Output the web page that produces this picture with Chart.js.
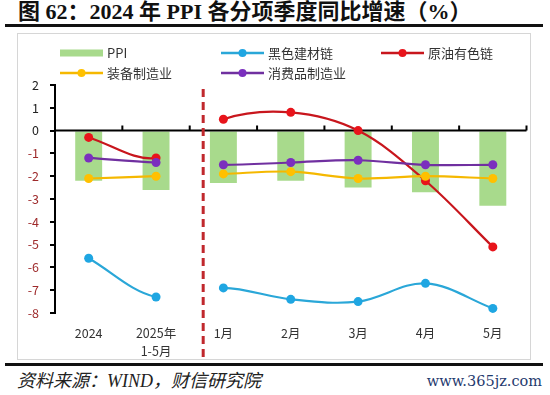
<!DOCTYPE html>
<html>
<head>
<meta charset="utf-8">
<script src="https://cdn.jsdelivr.net/npm/chart.js@4.4.1/dist/chart.umd.min.js"></script>
<style>
  body { margin: 0; width: 550px; height: 395px; background: #fff; position: relative; overflow: hidden; font-family: "Noto Sans CJK SC", sans-serif; }
  #title { position: absolute; left: 18px; top: 0; font: bold 22px/24px "Liberation Serif", "Noto Sans CJK SC", serif; color: #111; white-space: nowrap; }
  .rule { position: absolute; left: 5px; width: 538px; height: 3px; background: #111; }
  #box { position: absolute; left: 17px; top: 33px; width: 514px; height: 327px; box-sizing: border-box; border: 1px solid #d6d6d6; }
  #chart { position: absolute; left: 17px; top: 33px; }
  .item { position: absolute; font-size: 13px; line-height: 16px; color: #333; white-space: nowrap; }
  .item svg { position: absolute; left: 0; top: 4px; }
  .item span { position: absolute; left: 47px; top: 0; }
  #src { position: absolute; left: 17px; top: 370px; font: italic 18px/22px "Liberation Serif", "Noto Sans CJK SC", serif; color: #222; white-space: nowrap; }
  #site { position: absolute; right: 8px; top: 370px; font: 14.5px/22px "DejaVu Serif", serif; color: #1f3a6e; }
</style>
</head>
<body>
<div id="title">图 62：2024 年 PPI 各分项季度同比增速（%）</div>
<div class="rule" style="top:24px"></div>
<div id="box"></div>
<canvas id="chart" width="514" height="327"></canvas>
<div id="legend"></div>
<div class="rule" style="top:363px"></div>
<div id="src">资料来源：WIND，财信研究院</div>
<div id="site">www.365jz.com</div>
<script>
const categories = ["2024", ["2025年", "1-5月"], "1月", "2月", "3月", "4月", "5月"];
const seriesNames = ["PPI", "黑色建材链", "原油有色链", "装备制造业", "消费品制造业"];
const ppi = [-2.2, -2.6, -2.3, -2.2, -2.5, -2.7, -3.3];
const ferrous = [-5.6, -7.3, -6.9, -7.4, -7.5, -6.7, -7.8];
const oilMetal = [-0.3, -1.2, 0.5, 0.8, 0.0, -2.2, -5.1];
const equipment = [-2.1, -2.0, -1.9, -1.8, -2.1, -2.0, -2.1];
const consumer = [-1.2, -1.4, -1.5, -1.4, -1.3, -1.5, -1.5];

const green = "#a8da8c";
const lineColors = ["#2aa7d8", "#c8161d", "#f5b800", "#7030a0"];
const pointColors = ["#1fa6e2", "#e8141b", "#ffc000", "#7b2fbe"];

// the two annual points and the monthly points are not joined
const gap = (color) => ({
  borderColor: (c) => (c.p0DataIndex === 1 ? "rgba(0,0,0,0)" : color),
});

function lineSet(label, data, i, order) {
  return {
    type: "line",
    label,
    data,
    borderColor: lineColors[i],
    borderWidth: 2.2,
    pointRadius: 4.5,
    pointBackgroundColor: pointColors[i],
    pointBorderColor: pointColors[i],
    pointBorderWidth: 0,
    tension: 0.35,
    segment: gap(lineColors[i]),
    order,
  };
}

const axisDecor = {
  id: "axisDecor",
  afterDatasetDraw(chart, args) {
    if (args.index !== 0) return;
    const { ctx, chartArea, scales } = chart;
    const x = scales.x, y = scales.y;
    const y0 = y.getPixelForValue(0);
    const step = x.getPixelForValue(1) - x.getPixelForValue(0);
    ctx.save();
    ctx.strokeStyle = "#000";
    ctx.lineWidth = 2;
    ctx.beginPath();
    ctx.moveTo(chartArea.left, y0);
    ctx.lineTo(chartArea.right, y0);
    for (let k = 1; k <= categories.length; k++) {
      const bx = x.getPixelForValue(0) - step / 2 + k * step;
      ctx.moveTo(bx, y0);
      ctx.lineTo(bx, y0 - 5);
    }
    ctx.stroke();
    // divider between annual and monthly data
    const dx = x.getPixelForValue(2) - 0.3 * step;
    ctx.strokeStyle = "#c0282d";
    ctx.lineWidth = 3;
    ctx.setLineDash([8, 5]);
    ctx.beginPath();
    ctx.moveTo(dx, chartArea.top + 4);
    ctx.lineTo(dx, chart.height - 2);
    ctx.stroke();
    ctx.restore();
  },
};

new Chart(document.getElementById("chart").getContext("2d"), {
  data: {
    labels: categories,
    datasets: [
      {
        type: "bar",
        label: seriesNames[0],
        data: ppi,
        backgroundColor: green,
        categoryPercentage: 1,
        barPercentage: 0.4,
        order: 10,
      },
      lineSet(seriesNames[1], ferrous, 0, 4),
      lineSet(seriesNames[2], oilMetal, 1, 3),
      lineSet(seriesNames[3], equipment, 2, 2),
      lineSet(seriesNames[4], consumer, 3, 1),
    ],
  },
  options: {
    responsive: false,
    animation: false,
    layout: { padding: { top: 52, right: 4, left: 0, bottom: 0 } },
    plugins: { legend: { display: false }, tooltip: { enabled: false } },
    scales: {
      x: {
        grid: { display: false },
        border: { display: false },
        ticks: {
          color: "#333",
          padding: 4,
          autoSkip: false,
          maxRotation: 0,
          font: { family: "Noto Sans CJK SC", size: 12.5, lineHeight: 1.38 },
        },
        afterFit: (s) => { s.height = 47; },
      },
      y: {
        min: -8,
        max: 2,
        border: { color: "#000", width: 2 },
        grid: { drawOnChartArea: false, tickLength: 5, color: "#000", lineWidth: 2 },
        ticks: {
          stepSize: 1,
          padding: 11,
          color: (c) => (c.tick && c.tick.value < 0 ? "#9e2a2b" : "#222"),
          font: { family: "Noto Sans CJK SC", size: 12.5 },
        },
        afterFit: (s) => { s.width = 38; },
      },
    },
  },
  plugins: [axisDecor],
});

// legend laid out in a grid like the original
const legendSpots = [[60, 45], [221, 45], [381, 45], [60, 65], [221, 65]];
const legend = document.getElementById("legend");
seriesNames.forEach((name, i) => {
  const div = document.createElement("div");
  div.className = "item";
  div.style.left = legendSpots[i][0] + "px";
  div.style.top = legendSpots[i][1] + "px";
  let sw;
  if (i === 0) {
    sw = `<svg width="43" height="8"><rect x="0" y="0.5" width="43" height="7" fill="${green}"/></svg>`;
  } else {
    sw = `<svg width="43" height="8"><line x1="0" y1="4" x2="43" y2="4" stroke="${lineColors[i - 1]}" stroke-width="2.5"/><circle cx="21.5" cy="4" r="4" fill="${pointColors[i - 1]}"/></svg>`;
  }
  div.innerHTML = sw + `<span>${name}</span>`;
  legend.appendChild(div);
});
</script>
</body>
</html>
